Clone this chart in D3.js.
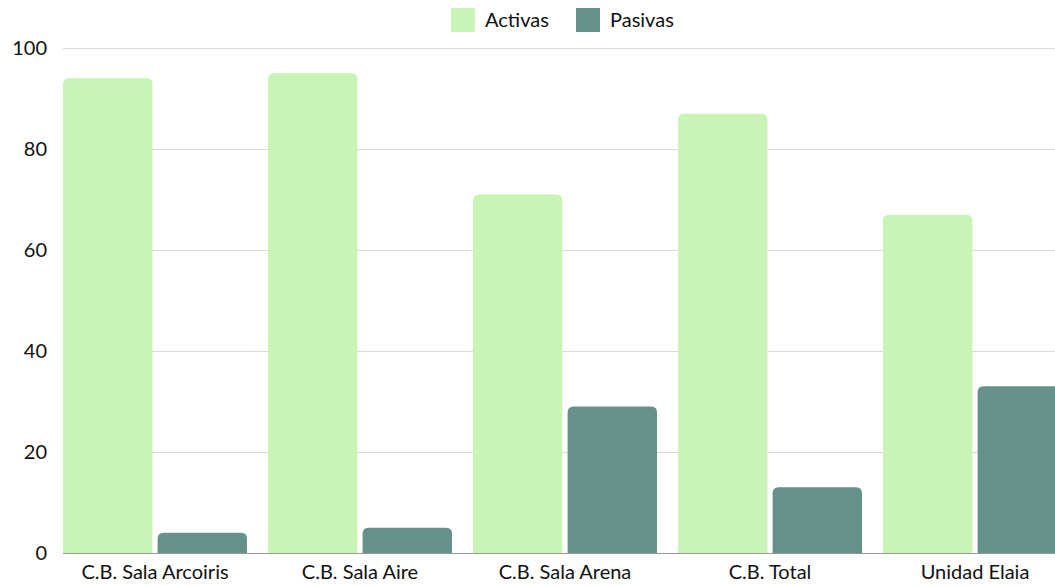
<!DOCTYPE html>
<html>
<head>
<meta charset="utf-8">
<script src="https://cdn.jsdelivr.net/npm/d3@7"></script>
<style>
  body { margin: 0; background: #fff; }
  svg { font-family: Lato, sans-serif; }
</style>
</head>
<body>
<svg id="chart" width="1055" height="586"></svg>
<script>
var categories = ['C.B. Sala Arcoiris', 'C.B. Sala Aire', 'C.B. Sala Arena', 'C.B. Total', 'Unidad Elaia']
var series = ['Activas', 'Pasivas']
var activas = [94, 95, 71, 87, 67]
var pasivas = [4, 5, 29, 13, 33]
var yTicks = [0, 20, 40, 60, 80, 100]
var colors = ['#c8f5b5', '#65918b']

var data = categories.map(function (c, i) {
  return { key: c, values: [activas[i], pasivas[i]] }
})

var svg = d3.select('#chart')
var mLeft = 63
var mTop = 48
var mBottom = 553
var step = 205
var gap = 21

var x = d3.scaleBand()
  .domain(categories)
  .range([mLeft, mLeft + step * categories.length - gap])
  .paddingInner(gap / step)
  .paddingOuter(0)
var x1 = d3.scaleBand()
  .domain(series)
  .range([0, x.bandwidth()])
  .paddingInner(0.055)
var y = d3.scaleLinear()
  .domain([0, 100])
  .range([mBottom, mTop])

// grid
svg.append('g').selectAll('line')
  .data(yTicks)
  .enter().append('line')
  .attr('x1', mLeft).attr('x2', 1055)
  .attr('y1', function (d) { return y(d) + 0.5 })
  .attr('y2', function (d) { return y(d) + 0.5 })
  .attr('stroke', function (d) { return d === 0 ? '#9a9a9a' : '#d9d9d9' })
  .attr('stroke-width', 1)

svg.append('g').selectAll('text')
  .data(yTicks)
  .enter().append('text')
  .attr('x', 47)
  .attr('y', function (d) { return y(d) })
  .attr('dy', '0.35em')
  .attr('text-anchor', 'end')
  .attr('font-size', 20)
  .attr('fill', '#111')
  .text(function (d) { return d })

function topRounded (x0, y0, w, h, r) {
  r = Math.min(r, h, w / 2)
  return 'M' + x0 + ',' + (y0 + h) +
    'V' + (y0 + r) +
    'Q' + x0 + ',' + y0 + ' ' + (x0 + r) + ',' + y0 +
    'H' + (x0 + w - r) +
    'Q' + (x0 + w) + ',' + y0 + ' ' + (x0 + w) + ',' + (y0 + r) +
    'V' + (y0 + h) + 'Z'
}

var groups = svg.append('g').selectAll('g')
  .data(data)
  .enter().append('g')
  .attr('transform', function (d) { return 'translate(' + x(d.key) + ',0)' })

groups.selectAll('path')
  .data(function (d) { return d.values.map(function (v, i) { return { s: series[i], v: v, i: i } }) })
  .enter().append('path')
  .attr('fill', function (d) { return colors[d.i] })
  .attr('d', function (d) {
    return topRounded(x1(d.s), y(d.v), x1.bandwidth(), mBottom - y(d.v), 6)
  })

svg.append('g').selectAll('text')
  .data(categories)
  .enter().append('text')
  .attr('x', function (d) { return x(d) + x.bandwidth() / 2 })
  .attr('y', 579)
  .attr('text-anchor', 'middle')
  .attr('font-size', 20)
  .attr('fill', '#111')
  .text(function (d) { return d })

// legend
var legendX = [451, 576]
var legend = svg.append('g').selectAll('g')
  .data(series)
  .enter().append('g')
  .attr('transform', function (d, i) { return 'translate(' + legendX[i] + ',8)' })
legend.append('rect')
  .attr('width', 24).attr('height', 24)
  .attr('fill', function (d, i) { return colors[i] })
legend.append('text')
  .attr('x', 34).attr('y', 12)
  .attr('dy', '0.35em')
  .attr('font-size', 20)
  .attr('fill', '#111')
  .text(function (d) { return d })
</script>
</body>
</html>
